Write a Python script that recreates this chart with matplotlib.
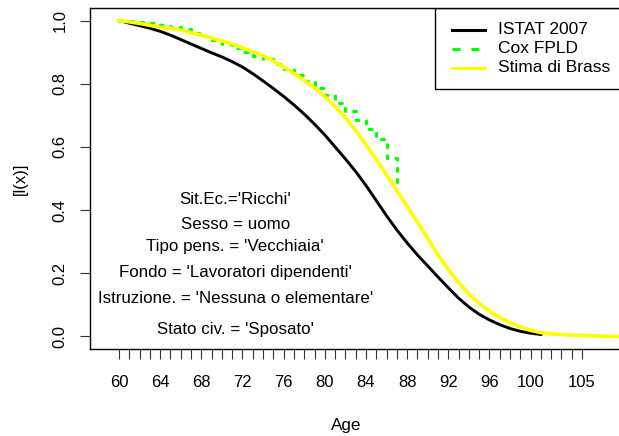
import numpy as np
import matplotlib
matplotlib.use('Agg')
import matplotlib.pyplot as plt
from matplotlib.patches import Rectangle
from matplotlib.lines import Line2D

plt.rcParams['font.family'] = ['Liberation Sans', 'DejaVu Sans']

# survival curve l(x) from the ISTAT 2007 table
age_istat = np.arange(60, 102)
lx_istat = [1.000, 0.992, 0.984, 0.976, 0.966, 0.954, 0.940, 0.926, 0.912, 0.898,
            0.885, 0.870, 0.853, 0.832, 0.809, 0.785, 0.760, 0.733, 0.704, 0.672,
            0.638, 0.600, 0.562, 0.522, 0.478, 0.430, 0.382, 0.337, 0.296, 0.258,
            0.223, 0.188, 0.154, 0.121, 0.093, 0.070, 0.052, 0.037, 0.025, 0.016,
            0.010, 0.006]

# Cox FPLD estimate (step function)
age_cox = np.arange(60, 88)
lx_cox = [1.000, 0.999, 0.997, 0.993, 0.987, 0.980, 0.972, 0.962, 0.952, 0.940,
          0.927, 0.913, 0.901, 0.889, 0.877, 0.863, 0.846, 0.828, 0.810, 0.788,
          0.765, 0.740, 0.715, 0.684, 0.656, 0.625, 0.565, 0.490]

# Brass relational model
age_brass = np.arange(60, 111)
lx_brass = [1.000, 0.996, 0.991, 0.985, 0.979, 0.976, 0.970, 0.962, 0.954, 0.945,
            0.936, 0.926, 0.914, 0.902, 0.889, 0.872, 0.853, 0.833, 0.811, 0.787,
            0.760, 0.728, 0.693, 0.652, 0.607, 0.560, 0.512, 0.462, 0.412, 0.362,
            0.310, 0.258, 0.212, 0.170, 0.134, 0.104, 0.080, 0.060, 0.043, 0.030,
            0.019, 0.012, 0.008, 0.006, 0.004, 0.003, 0.002, 0.001, 0.000, 0.000,
            0.000]

tick_labels = [60, 64, 68, 72, 76, 80, 84, 88, 92, 96, 100, 105]

notes = ["Sit.Ec.='Ricchi'", "Sesso = uomo", "Tipo pens. = 'Vecchiaia'",
         "Fondo = 'Lavoratori dipendenti'", "Istruzione. = 'Nessuna o elementare'",
         "Stato civ. = 'Sposato'"]
notes_y = [0.434, 0.355, 0.284, 0.201, 0.121, 0.021]

W, H = 619, 436
fig = plt.figure(figsize=(W / 100, H / 100), dpi=100)
ax = fig.add_axes([90 / W, 1 - 349 / H, 532 / W, 341 / H])

ax.plot(age_istat, lx_istat, color='black', lw=2.1)
ax.plot(age_cox, lx_cox, color='#00ff00', lw=2.3, drawstyle='steps-post',
        linestyle=(0, (0.9, 2.6)), dash_capstyle='round')
ax.plot(age_brass, lx_brass, color='#ffff00', lw=2.6)

ax.set_xlim(57.18, 108.88)
ax.set_ylim(-0.04, 1.04)

ax.set_xticks(np.arange(60, 106))
ax.set_xticklabels([str(a) if a in tick_labels else '' for a in range(60, 106)])
ax.set_yticks([0, 0.2, 0.4, 0.6, 0.8, 1.0])
ax.set_yticklabels(['0.0', '0.2', '0.4', '0.6', '0.8', '1.0'], rotation=90, va='center')
ax.tick_params(direction='out', length=7, width=0.8, labelsize=12, color='#333333')
ax.tick_params(axis='x', pad=12)
ax.tick_params(axis='y', pad=9)
for s in ax.spines.values():
    s.set_linewidth(1.0)

ax.set_ylabel('[l(x)]', fontsize=12, labelpad=18)
fig.text(346 / W, 1 - 425 / H, 'Age', ha='center', va='center', fontsize=12.3)

for txt, yv in zip(notes, notes_y):
    ax.text(71.3, yv, txt, ha='center', va='center', fontsize=12.2)

# legend box in the top right corner
leg_x0 = 57.18 + (435 - 90) / 10.29
ax.add_patch(Rectangle((leg_x0, 1.04), 20, -(89 - 8) / 314.5, fill=False,
                       edgecolor='black', lw=1.0, clip_on=True, zorder=5))
leg_lines = [('ISTAT 2007', 'black', '-'), ('Cox FPLD', '#00ff00', (0, (2.6, 3.6))),
             ('Stima di Brass', '#ffff00', '-')]
for i, (lab, col, ls) in enumerate(leg_lines):
    py = 31 + 19 * i
    yv = (336.5 - py) / 314.5
    x1 = 57.18 + (452 - 90) / 10.29
    x2 = 57.18 + (485 - 90) / 10.29
    ax.add_line(Line2D([x1, x2], [yv, yv], color=col, lw=2.2, linestyle=ls))
    ax.text(57.18 + (498 - 90) / 10.29, yv, lab, ha='left', va='center', fontsize=12.5)

fig.savefig('out.png', dpi=100)
